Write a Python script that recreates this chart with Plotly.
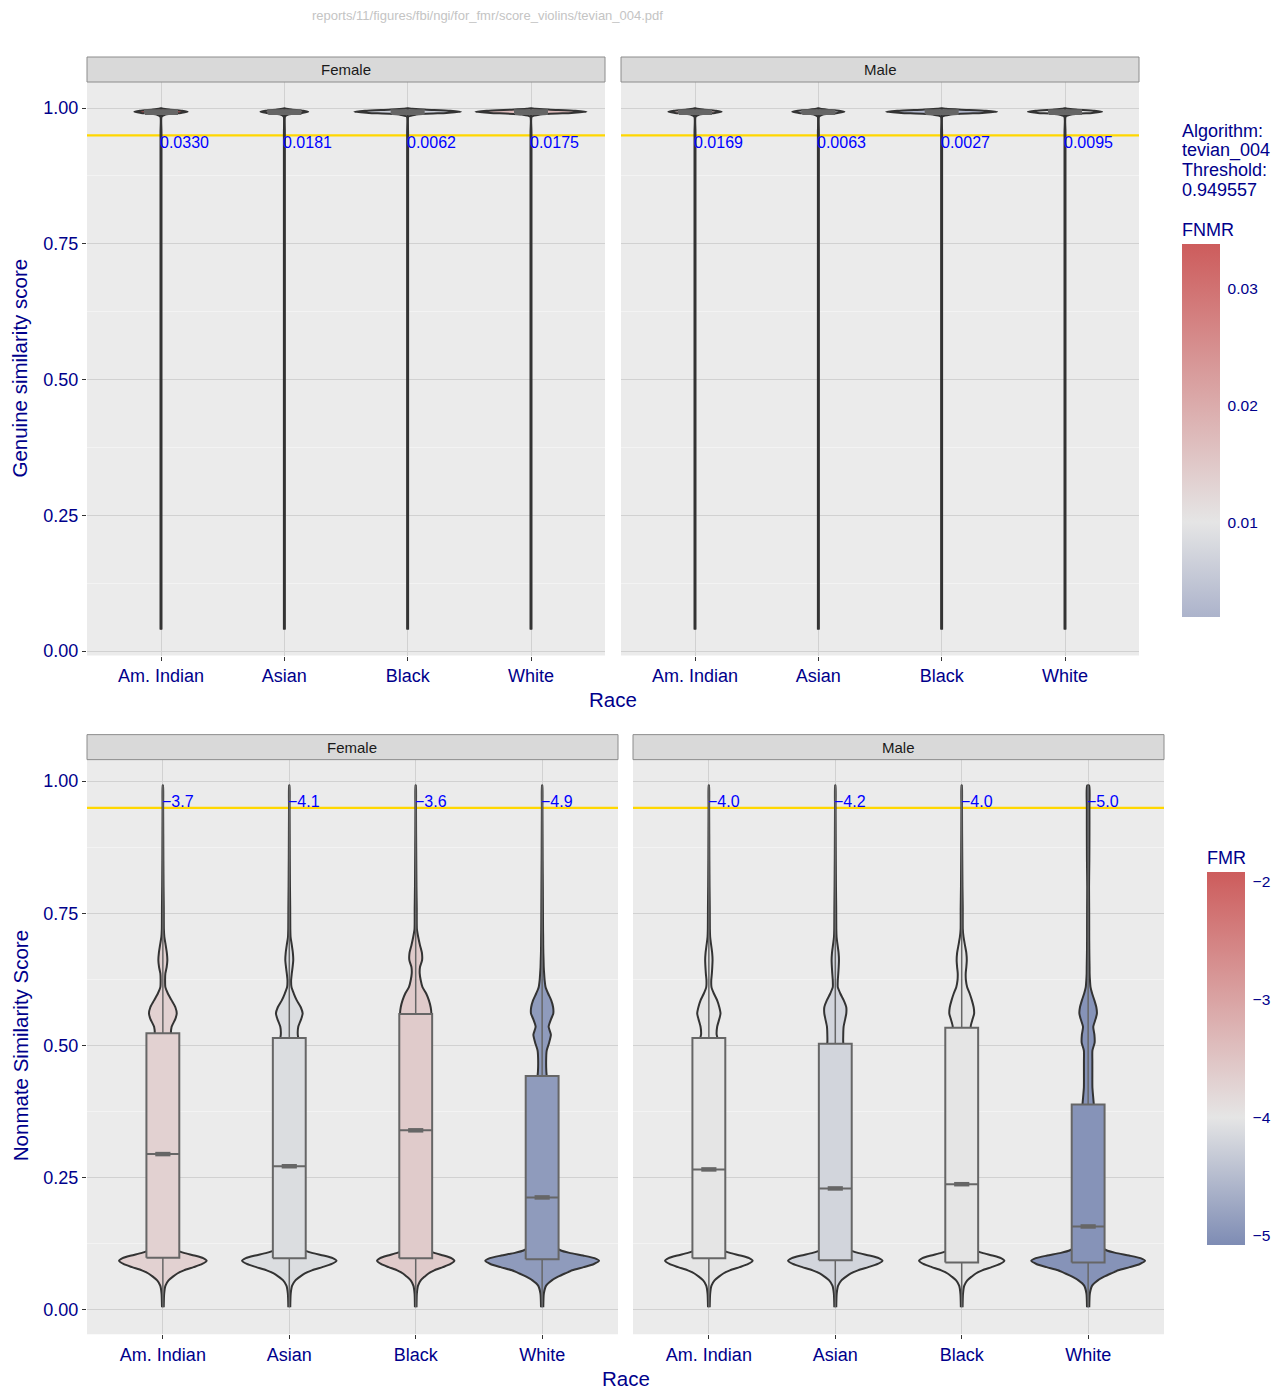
import plotly.graph_objects as go

# ---------------- data ----------------
RACES = ["Am. Indian", "Asian", "Black", "White"]
SEXES = ["Female", "Male"]
ALGORITHM = "tevian_004"
THRESHOLD = 0.949557
SOURCE = "reports/11/figures/fbi/ngi/for_fmr/score_violins/tevian_004.pdf"

FNMR_FEMALE = [0.0330, 0.0181, 0.0062, 0.0175]
FNMR_MALE = [0.0169, 0.0063, 0.0027, 0.0095]
FMR_FEMALE = [-3.7, -4.1, -3.6, -4.9]   # log10 FMR
FMR_MALE = [-4.0, -4.2, -4.0, -5.0]

# genuine score violins: score levels and relative width (% of widest violin)
GEN_V = [0.040, 0.955, 0.984, 0.988, 0.991, 0.993, 0.995, 0.997, 0.9985, 0.9995]
GEN_DENS_FEMALE = [
    [0.8, 0.8, 1.0, 8, 36, 48, 38, 17, 4, 0.6],
    [0.8, 0.8, 1.0, 7, 32, 43, 34, 15, 3.5, 0.6],
    [0.8, 0.8, 1.2, 15, 70, 96, 77, 34, 8, 0.6],
    [0.8, 0.8, 1.2, 16, 73, 100, 80, 35, 8, 0.6],
]
GEN_DENS_MALE = [
    [0.8, 0.8, 1.0, 8, 36, 48, 38, 17, 4, 0.6],
    [0.8, 0.8, 1.0, 8, 35, 47, 37, 16, 4, 0.6],
    [0.8, 0.8, 1.2, 16, 73, 100, 80, 35, 8, 0.6],
    [0.8, 0.8, 1.1, 11, 49, 67, 53, 23, 5, 0.6],
]
GEN_LO = [0.040, 0.040, 0.040, 0.040]
GEN_Q1 = [0.989, 0.989, 0.989, 0.989]
GEN_MED = [0.993, 0.993, 0.993, 0.993]
GEN_Q3 = [0.996, 0.996, 0.996, 0.996]
GEN_HI = [0.999, 0.999, 0.999, 0.999]

# nonmate score violins
NM_V = [0.004, 0.030, 0.045, 0.055, 0.062, 0.068, 0.074, 0.080, 0.086, 0.092,
        0.097, 0.102, 0.107, 0.112, 0.118, 0.130, 0.250, 0.380, 0.420, 0.450,
        0.470, 0.490, 0.505, 0.520, 0.535, 0.550, 0.560, 0.572, 0.585, 0.598,
        0.610, 0.623, 0.636, 0.648, 0.661, 0.675, 0.690, 0.705, 0.720, 0.760,
        0.800, 0.850, 0.900, 0.950, 0.992]
NM_DENS_FEMALE = [
    [1.5, 2.3, 4.6, 10, 17.7, 25.4, 37, 54, 69.3, 77, 70.8, 55.4, 37, 24.6, 18.5, 16,
     18, 18, 18, 17, 17, 16, 15, 14, 15.4, 22, 24.4, 22, 15.4, 8.8, 4.4, 3.9, 4.4, 6.7,
     7.9, 7, 4.9, 2.6, 1.8, 1.6, 1.2, 0.9, 0.7, 0.5, 0.3],
    [1.7, 2.5, 5, 10.8, 19, 27.4, 39.8, 58, 74.7, 83, 76.4, 59.8, 39.8, 26.6, 19.9, 17,
     18, 18, 18, 18, 18, 18, 17.5, 14.9, 15.8, 21, 23.5, 20.2, 13.2, 7.9, 3.9, 3.2, 4.4,
     5.8, 7, 6.3, 4.4, 2.3, 1.8, 1.6, 1.2, 0.9, 0.7, 0.5, 0.3],
    [1.4, 2, 4.1, 8.8, 15.6, 22.4, 32.6, 47.6, 61.2, 68, 62.6, 49, 32.6, 21.8, 16.3, 14,
     16, 18, 19, 20, 21, 22, 23, 24, 24, 25, 27.4, 26.3, 23.2, 18.4, 11.9, 8.8, 7, 7.5,
     11.2, 10.9, 7.4, 4.4, 2.1, 1.8, 1.3, 1.0, 0.7, 0.5, 0.3],
    [2, 3, 7, 17, 28, 40, 53, 73, 91, 100, 92, 72, 48, 32, 24, 20,
     14, 12, 10, 7.4, 7, 8, 12.3, 15.4, 11.4, 15.8, 19.6, 19.3, 16, 10.5, 6.1, 4.4, 3.5,
     2.8, 2.5, 2.1, 1.9, 1.8, 1.6, 1.4, 1.2, 0.9, 0.7, 0.5, 0.3],
]
NM_DENS_MALE = [
    [1.5, 2.3, 4.6, 10, 17.7, 25.4, 37, 54, 69.3, 77, 70.8, 55.4, 37, 24.6, 18.5, 16,
     18, 18, 18, 18, 18, 18, 17.5, 13.7, 14.6, 18.4, 20.5, 18.4, 14.6, 8.8, 4.6, 4.2, 5.3,
     6, 6.5, 5.8, 4, 2.3, 1.8, 1.6, 1.2, 0.9, 0.7, 0.5, 0.3],
    [1.7, 2.5, 5, 10.8, 19, 27.4, 39.8, 58, 74.7, 83, 76.4, 59.8, 39.8, 26.6, 19.9, 17,
     18, 18, 18, 18, 18, 17.5, 14, 14, 14.6, 17.5, 19.3, 19.3, 14.9, 8.8, 4.4, 4.4, 5.3,
     6, 6.5, 5.8, 4, 2.3, 1.8, 1.6, 1.2, 0.9, 0.7, 0.5, 0.3],
    [1.5, 2.3, 4.5, 9.8, 17.3, 24.8, 36, 52.5, 67.5, 75, 69, 54, 36, 24, 18, 15,
     16, 18, 19, 20, 20, 21, 21, 21, 15.8, 19.3, 21.8, 21, 17.9, 14, 9.6, 7.4, 7, 8.1,
     8.9, 8.1, 5.6, 3.2, 1.9, 1.8, 1.3, 1.0, 0.7, 0.5, 0.3],
    [2, 3, 7, 17, 28, 40, 53, 73, 91, 100, 92, 72, 48, 32, 24, 20,
     14, 10.5, 7.5, 7.4, 7.4, 7.5, 11.4, 11, 9, 13.2, 15.4, 14.4, 11, 7, 4.2, 3.2, 2.6,
     2.5, 2.3, 2.1, 2, 1.9, 1.9, 1.8, 1.6, 2.1, 2.3, 2.3, 1.8],
]
NM_LO = [0.004, 0.004, 0.004, 0.004]
NM_HI = [0.992, 0.992, 0.992, 0.992]
NM_Q1_FEMALE = [0.098, 0.097, 0.097, 0.095]
NM_MED_FEMALE = [0.294, 0.271, 0.339, 0.212]
NM_Q3_FEMALE = [0.523, 0.514, 0.559, 0.442]
NM_Q1_MALE = [0.097, 0.093, 0.089, 0.089]
NM_MED_MALE = [0.265, 0.229, 0.237, 0.157]
NM_Q3_MALE = [0.514, 0.503, 0.533, 0.388]

# ---------------- style ----------------
W = 1281
SY = 1.0045                 # vertical correction of the capture
H = round(1389 * SY)
FONT = "Liberation Sans, Arial, sans-serif"
NAVY = "#00008B"
PANEL_BG = "#EBEBEB"
GRID_MAJOR = "#D1D1D1"
GRID_MINOR = "#F3F3F3"
VIOLIN_LINE = "#333333"
BOX_LINE = "#666666"
THR_COLOR = "#FFD700"
VIOLIN_HALF = 0.45
BOX_HALF = 0.13

FNMR_RANGE = (0.0019, 0.0338)
FNMR_STOPS = [(0.0019, (172, 179, 203)), (0.0100, (229, 229, 229)), (0.0338, (205, 92, 92))]
FMR_RANGE = (-5.079, -1.921)
FMR_STOPS = [(-5.079, (126, 140, 180)), (-4.0, (229, 229, 229)), (-1.921, (205, 92, 92))]


def color_at(stops, v):
    for (v0, c0), (v1, c1) in zip(stops[:-1], stops[1:]):
        if v <= v1 or (v1 == stops[-1][0]):
            t = min(max((v - v0) / (v1 - v0), 0), 1)
            return "rgb(%d,%d,%d)" % tuple(round(a + (b - a) * t) for a, b in zip(c0, c1))
    return "rgb(%d,%d,%d)" % stops[-1][1]


def colorscale(stops, rng):
    lo, hi = rng
    return [[(v - lo) / (hi - lo), "rgb(%d,%d,%d)" % c] for v, c in stops]


def px_x(p):
    return p / W


def px_y(p):
    return (H - p * SY) / H


# panel pixel boxes: (x0, x1, y_top, y_bottom, xaxis, yaxis)
PANELS = {
    ("gen", "Female"): (87, 605, 82, 655.4, "x", "y"),
    ("gen", "Male"): (621, 1139, 82, 655.4, "x2", "y2"),
    ("nm", "Female"): (87, 618, 759.5, 1334, "x3", "y3"),
    ("nm", "Male"): (633, 1164, 759.5, 1334, "x4", "y4"),
}
YRANGE = {"gen": [-0.0081, 1.0479], "nm": [-0.047, 1.0407]}
STRIP_H = 25

fig = go.Figure()


def add_violin(xa, ya, xc, vgrid, dens, fill, lo, q1, med, q3, hi, nonmate):
    hw = [d / 100.0 * VIOLIN_HALF for d in dens]
    xs = [xc + h for h in hw] + [xc - h for h in reversed(hw)]
    ys = list(vgrid) + list(reversed(vgrid))
    fig.add_trace(go.Scatter(x=xs, y=ys, mode="lines", fill="toself", fillcolor=fill,
                             line=dict(color=VIOLIN_LINE, width=2, shape="spline", smoothing=0.6),
                             xaxis=xa, yaxis=ya, hoverinfo="skip", showlegend=False))
    fig.add_trace(go.Scatter(x=[xc, xc], y=[lo, hi], mode="lines",
                             line=dict(color=BOX_LINE if nonmate else VIOLIN_LINE,
                                       width=1.5 if nonmate else 2.2),
                             xaxis=xa, yaxis=ya, hoverinfo="skip", showlegend=False))
    box_fill = fill if nonmate else BOX_LINE
    fig.add_trace(go.Scatter(x=[xc - BOX_HALF, xc + BOX_HALF, xc + BOX_HALF, xc - BOX_HALF, xc - BOX_HALF],
                             y=[q1, q1, q3, q3, q1], mode="lines", fill="toself", fillcolor=box_fill,
                             line=dict(color=BOX_LINE, width=2),
                             xaxis=xa, yaxis=ya, hoverinfo="skip", showlegend=False))
    fig.add_trace(go.Scatter(x=[xc - BOX_HALF, xc + BOX_HALF], y=[med, med], mode="lines",
                             line=dict(color=BOX_LINE, width=2),
                             xaxis=xa, yaxis=ya, hoverinfo="skip", showlegend=False))
    if nonmate:
        fig.add_trace(go.Scatter(x=[xc - 0.06, xc + 0.06], y=[med, med], mode="lines",
                                 line=dict(color=BOX_LINE, width=4.5),
                                 xaxis=xa, yaxis=ya, hoverinfo="skip", showlegend=False))


layout_axes = {}
annotations = []
shapes = []

for (kind, sex), (x0, x1, yt, yb, xa, ya) in PANELS.items():
    # threshold line (beneath violins)
    fig.add_trace(go.Scatter(x=[0.4, 4.6], y=[THRESHOLD, THRESHOLD], mode="lines",
                             line=dict(color=THR_COLOR, width=2.2),
                             xaxis=xa, yaxis=ya, hoverinfo="skip", showlegend=False))
    for i, race in enumerate(RACES):
        xc = i + 1
        if kind == "gen":
            dens = (GEN_DENS_FEMALE if sex == "Female" else GEN_DENS_MALE)[i]
            val = (FNMR_FEMALE if sex == "Female" else FNMR_MALE)[i]
            fill = color_at(FNMR_STOPS, val)
            add_violin(xa, ya, xc, GEN_V, dens, fill, GEN_LO[i], GEN_Q1[i], GEN_MED[i],
                       GEN_Q3[i], GEN_HI[i], False)
            annotations.append(dict(x=xc, y=THRESHOLD, xref=xa, yref=ya, text="%.4f" % val,
                                    showarrow=False, xanchor="left", yanchor="middle",
                                    xshift=-3, yshift=-7,
                                    font=dict(family=FONT, size=16, color="#0000FF")))
        else:
            dens = (NM_DENS_FEMALE if sex == "Female" else NM_DENS_MALE)[i]
            val = (FMR_FEMALE if sex == "Female" else FMR_MALE)[i]
            q1 = (NM_Q1_FEMALE if sex == "Female" else NM_Q1_MALE)[i]
            med = (NM_MED_FEMALE if sex == "Female" else NM_MED_MALE)[i]
            q3 = (NM_Q3_FEMALE if sex == "Female" else NM_Q3_MALE)[i]
            fill = color_at(FMR_STOPS, val)
            add_violin(xa, ya, xc, NM_V, dens, fill, NM_LO[i], q1, med, q3, NM_HI[i], True)
            annotations.append(dict(x=xc, y=THRESHOLD, xref=xa, yref=ya,
                                    text=("%.1f" % val).replace("-", "\u2212"),
                                    showarrow=False, xanchor="left", yanchor="middle",
                                    xshift=-3, yshift=6,
                                    font=dict(family=FONT, size=16, color="#0000FF")))

    first = sex == "Female"
    xkey = "xaxis" + xa[1:]
    ykey = "yaxis" + ya[1:]
    layout_axes[xkey] = dict(
        domain=[px_x(x0), px_x(x1)], range=[0.4, 4.6], anchor=ya,
        tickvals=[1, 2, 3, 4], ticktext=RACES, showgrid=True, gridcolor=GRID_MAJOR,
        gridwidth=1.1, zeroline=False, ticks="outside", ticklen=4, tickcolor="#333333",
        tickwidth=1.1, tickfont=dict(family=FONT, size=18, color=NAVY), showline=False,
    )
    layout_axes[ykey] = dict(
        domain=[px_y(yb), px_y(yt)], range=YRANGE[kind], anchor=xa,
        tickvals=[0, 0.25, 0.5, 0.75, 1.0], ticktext=["0.00", "0.25", "0.50", "0.75", "1.00"],
        showticklabels=first, ticks="outside" if first else "", ticklen=4,
        tickcolor="#333333", tickwidth=1.1,
        tickfont=dict(family=FONT, size=18, color=NAVY),
        showgrid=True, gridcolor=GRID_MAJOR, gridwidth=1.1, zeroline=False, showline=False,
        minor=dict(tickvals=[0.125, 0.375, 0.625, 0.875], showgrid=True,
                   gridcolor=GRID_MINOR, gridwidth=0.6, ticks=""),
    )
    # strip
    shapes.append(dict(type="rect", xref="paper", yref="paper",
                       x0=px_x(x0), x1=px_x(x1), y0=px_y(yt), y1=px_y(yt - STRIP_H),
                       fillcolor="#D9D9D9", line=dict(color="#8C8C8C", width=1)))
    annotations.append(dict(x=px_x((x0 + x1) / 2), y=px_y(yt - STRIP_H / 2), xref="paper",
                            yref="paper", text=sex, showarrow=False, xanchor="center",
                            yanchor="middle", font=dict(family=FONT, size=15, color="#1A1A1A")))

# colourbar hosts (invisible markers)
fig.add_trace(go.Scatter(
    x=[1, 2, 3, 4], y=GEN_MED, mode="markers", xaxis="x", yaxis="y", hoverinfo="skip",
    showlegend=False,
    marker=dict(size=1, opacity=0, color=FNMR_FEMALE, cmin=FNMR_RANGE[0], cmax=FNMR_RANGE[1],
                colorscale=colorscale(FNMR_STOPS, FNMR_RANGE), showscale=True,
                colorbar=dict(x=px_x(1182), xanchor="left", y=px_y(617), yanchor="bottom",
                              len=371 * SY, lenmode="pixels", thickness=38,
                              thicknessmode="pixels", xpad=0, ypad=0, outlinewidth=0,
                              tickvals=[0.01, 0.02, 0.03], ticktext=["0.01", "0.02", "0.03"],
                              ticks="outside", ticklen=5, tickcolor="white", tickwidth=1,
                              tickfont=dict(family=FONT, size=15.5, color=NAVY)))))
fig.add_trace(go.Scatter(
    x=[1, 2, 3, 4], y=NM_MED_FEMALE, mode="markers", xaxis="x3", yaxis="y3", hoverinfo="skip",
    showlegend=False,
    marker=dict(size=1, opacity=0, color=FMR_FEMALE, cmin=FMR_RANGE[0], cmax=FMR_RANGE[1],
                colorscale=colorscale(FMR_STOPS, FMR_RANGE), showscale=True,
                colorbar=dict(x=px_x(1207), xanchor="left", y=px_y(1245), yanchor="bottom",
                              len=371 * SY, lenmode="pixels", thickness=38,
                              thicknessmode="pixels", xpad=0, ypad=0, outlinewidth=0,
                              tickvals=[-5, -4, -3, -2],
                              ticktext=["\u22125", "\u22124", "\u22123", "\u22122"],
                              ticks="outside", ticklen=5, tickcolor="white", tickwidth=1,
                              tickfont=dict(family=FONT, size=15.5, color=NAVY)))))


def text_px(x, y, s, size, color=NAVY, xanchor="left", angle=0):
    annotations.append(dict(x=px_x(x), y=px_y(y), xref="paper", yref="paper", text=s,
                            showarrow=False, xanchor=xanchor, yanchor="middle", textangle=angle,
                            font=dict(family=FONT, size=size, color=color)))


text_px(487, 15, SOURCE, 13, color="#C4C4C4", xanchor="center")
text_px(613, 699, "Race", 20.5, xanchor="center")
text_px(625.5, 1378, "Race", 20.5, xanchor="center")
text_px(20, 368.5, "Genuine similarity score", 20.5, xanchor="center", angle=-90)
text_px(20, 1046, "Nonmate Similarity Score", 20.5, xanchor="center", angle=-90)
for k, line in enumerate(["Algorithm:", ALGORITHM, "Threshold:", "%.6f" % THRESHOLD]):
    text_px(1180, 131 + k * 19.7, line, 18)
text_px(1180, 230, "FNMR", 18)
text_px(1205, 858, "FMR", 18)

fig.update_layout(
    width=W, height=H, margin=dict(l=0, r=0, t=0, b=0), paper_bgcolor="white",
    plot_bgcolor=PANEL_BG, showlegend=False, annotations=annotations, shapes=shapes,
    **layout_axes,
)

fig.write_html("out.html", config={"displayModeBar": False},
               post_script="document.body.style.margin='0';document.body.style.overflow='hidden';")
